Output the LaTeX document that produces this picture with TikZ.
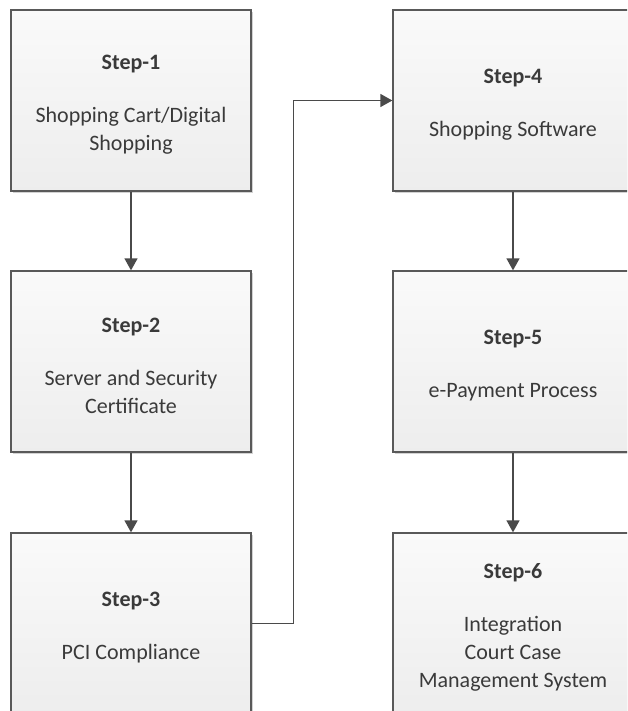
\documentclass[tikz,border=0pt]{standalone}
\usepackage{fontspec}
\setmainfont{Carlito}
\usetikzlibrary{arrows.meta,shadows}
\definecolor{edgegray}{HTML}{595959}
\definecolor{txtgray}{HTML}{3A3A3A}
\definecolor{linegray}{HTML}{4A4A4A}
\newcommand{\stephead}[1]{\rule{0pt}{23pt}\textbf{#1}}
\tikzset{
  stepbox/.style={rectangle, draw=edgegray, line width=1.3pt,
    top color=white!98!black, bottom color=white!93!black,
    minimum width=240pt, minimum height=181pt, inner sep=0pt,
    align=center, text=txtgray,
    font=\fontsize{22pt}{28pt}\selectfont,
    drop shadow={shadow xshift=2pt, shadow yshift=-2pt, fill=black!35, opacity=0.5}},
  flow/.style={draw=linegray, line width=1.3pt, -{Triangle[width=13pt,length=12pt]}}
}
\begin{document}
\begin{tikzpicture}[x=1pt,y=-1pt]
\useasboundingbox (0,0) rectangle (627,711);
\clip (0,0) rectangle (627,711);
\fill[white] (0,0) rectangle (627,711);
\node[stepbox] (s1) at (131,100.5) {\stephead{Step-1}\\[25pt]Shopping Cart/Digital\\Shopping};
\node[stepbox] (s2) at (131,361.5) {\stephead{Step-2}\\[25pt]Server and Security\\Certificate};
\node[stepbox] (s3) at (131,623.5) {\stephead{Step-3}\\[25pt]PCI Compliance};
\node[stepbox] (s4) at (513,100.5) {\stephead{Step-4}\\[25pt]Shopping Software};
\node[stepbox] (s5) at (513,361.5) {\stephead{Step-5}\\[25pt]e-Payment Process};
\node[stepbox] (s6) at (513,623.5) {\stephead{Step-6}\\[25pt]Integration\\Court Case\\Management System};
\draw[flow] (s1) -- (s2);
\draw[flow] (s2) -- (s3);
\draw[flow] (s3.east) -- ++(42,0) |- (s4.west);
\draw[flow] (s4) -- (s5);
\draw[flow] (s5) -- (s6);
\end{tikzpicture}
\end{document}
